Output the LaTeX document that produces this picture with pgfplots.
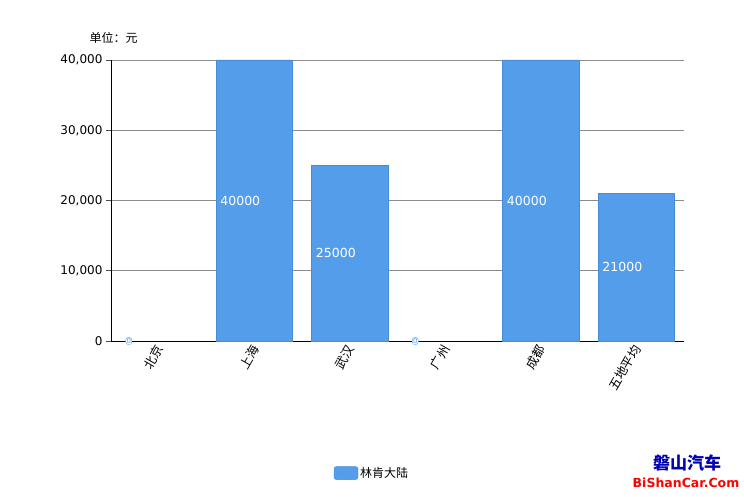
\documentclass[border=0pt]{standalone}
\usepackage{fontspec}
\setmainfont{DejaVu Sans}
\newfontfamily\cjk{Noto Sans CJK SC}
\usepackage{pgfplots}
\pgfplotsset{compat=1.18}
\definecolor{barblue}{RGB}{83,157,235}
\definecolor{baredge}{RGB}{70,140,215}
\begin{document}
\begin{tikzpicture}
\path[use as bounding box] (0,0) rectangle (744pt,496pt);
\begin{axis}[
  scale only axis, width=573pt, height=281pt,
  at={(111pt,155pt)}, anchor=south west,
  xmin=-0.5, xmax=5.5, ymin=0, ymax=40000,
  axis x line*=bottom, axis y line*=left,
  axis line style={black, line width=0.8pt, -},
  xtick={0,1,2,3,4,5},
  xticklabels={北京,上海,武汉,广州,成都,五地平均},
  x tick label style={font=\cjk\fontsize{12.5}{13}\selectfont, rotate=60, anchor=east, xshift=4pt, yshift=-1pt},
  major x tick style={draw=none},
  ytick={0,10000,20000,30000,40000},
  y tick label style={font=\fontsize{12}{13}\selectfont},
  yticklabel style={/pgf/number format/.cd, 1000 sep={,}, assume math mode=true},
  scaled y ticks=false,
  major y tick style={black!70, line width=0.6pt},
  tick align=outside, major tick length=5pt,
  ymajorgrids, grid style={black!45, line width=0.6pt},
  legend style={at={(0.4555,-0.47)}, anchor=center, draw=none, font=\cjk\fontsize{12}{13}\selectfont},
  legend image code/.code={\draw[rounded corners=2.5pt, fill=barblue, draw=baredge] (0pt,-6.5pt) rectangle (24pt,6.5pt);},
  clip=false,
]
\addplot[ybar, bar width=0.8, fill=barblue, draw=baredge, line width=0.4pt]
  coordinates {(1,40000) (2,25000) (4,40000) (5,21000)};
\addlegendentry{林肯大陆}
% value labels on non-zero bars
\addplot[draw=none, mark=none, forget plot,
  point meta=explicit symbolic,
  nodes near coords,
  every node near coord/.style={anchor=west, xshift=-35pt, text=white, font=\fontsize{12.5}{13}\selectfont, inner sep=1pt}]
  coordinates {(1,20000)[40000] (2,12500)[25000] (4,20000)[40000] (5,10500)[21000]};
% value labels on zero bars
\addplot[draw=none, mark=none, forget plot,
  point meta=explicit symbolic,
  nodes near coords,
  every node near coord/.style={anchor=center, xshift=-30pt, fill=white, draw=barblue, rounded corners=2.5pt, font=\fontsize{7}{7}\selectfont, inner sep=0.8pt, text=barblue}]
  coordinates {(0,0)[0] (3,0)[0]};
\end{axis}
\node[anchor=west, font=\cjk\fontsize{12}{13}\selectfont] at (86pt,458pt) {单位：元};
\node[font=\cjk\bfseries\fontsize{17}{18}\selectfont, text=blue!70!black] at (687pt,33pt) {磐山汽车};
\node[font=\bfseries\fontsize{12.5}{13}\selectfont, text=red] at (686pt,13pt) {BiShanCar.Com};
\end{tikzpicture}
\end{document}
